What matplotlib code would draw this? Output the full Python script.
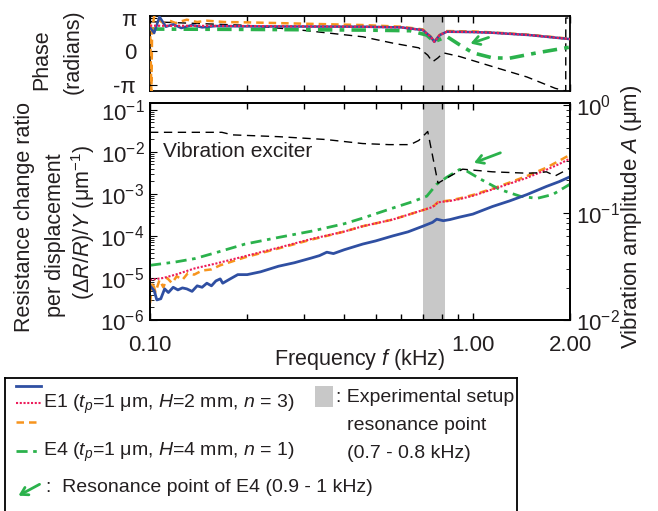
import numpy as np
import matplotlib
matplotlib.use("Agg")
import matplotlib.pyplot as plt
from matplotlib.patches import Rectangle
from matplotlib.lines import Line2D
from matplotlib.ticker import LogLocator, NullFormatter, FixedLocator

plt.rcParams['font.family'] = ['Liberation Sans', 'DejaVu Sans']
plt.rcParams['mathtext.fontset'] = 'custom'
plt.rcParams['mathtext.rm'] = 'Liberation Sans'
plt.rcParams['mathtext.it'] = 'Liberation Sans:italic'
plt.rcParams['mathtext.bf'] = 'Liberation Sans:bold'
TXT = '#231f20'

# ---------------- data ----------------
# E1 sample a (blue, solid)
f_e1a = [0.100, 0.103, 0.105, 0.108, 0.111, 0.114, 0.118, 0.122, 0.126, 0.130, 0.135, 0.140,
         0.145, 0.150, 0.155, 0.160, 0.165, 0.168, 0.175, 0.187, 0.20, 0.22, 0.25, 0.28, 0.317,
         0.335, 0.353, 0.37, 0.40, 0.456, 0.50, 0.565, 0.63, 0.70, 0.75, 0.773, 0.81, 0.85, 0.91,
         1.0, 1.15, 1.3, 1.47, 1.69, 1.85, 2.0]
r_e1a = [6.5e-6, 5.0e-6, 3.0e-6, 3.2e-6, 5.5e-6, 4.5e-6, 6.0e-6, 5.2e-6, 5.8e-6, 5.5e-6, 4.8e-6, 6.5e-6,
         6.0e-6, 7.5e-6, 6.5e-6, 8.5e-6, 9.5e-6, 7.5e-6, 9.0e-6, 1.2e-5, 1.2e-5, 1.4e-5, 1.9e-5, 2.3e-5, 3.0e-5,
         3.4e-5, 4.1e-5, 3.8e-5, 4.7e-5, 6.4e-5, 7.6e-5, 1.0e-4, 1.25e-4, 1.7e-4, 2.1e-4, 2.5e-4, 2.3e-4, 2.45e-4, 2.8e-4,
         3.3e-4, 5.0e-4, 6.8e-4, 9.6e-4, 1.5e-3, 1.95e-3, 2.55e-3]

# E1 sample b (red, dotted)
f_e1b = [0.100, 0.105, 0.11, 0.12, 0.138, 0.16, 0.197, 0.249, 0.317, 0.40, 0.456, 0.565, 0.70,
         0.74, 0.76, 0.78, 0.85, 0.91, 1.0, 1.15, 1.3, 1.47, 1.69, 1.85, 2.0]
r_e1b = [9e-6, 9.5e-6, 1.0e-5, 1.2e-5, 1.7e-5, 2.2e-5, 3.3e-5, 5.2e-5, 8.5e-5, 1.27e-4, 1.7e-4, 2.45e-4, 4.1e-4,
         4.7e-4, 5.2e-4, 6.3e-4, 6.8e-4, 7.5e-4, 9.0e-4, 1.28e-3, 1.75e-3, 2.4e-3, 3.75e-3, 5.1e-3, 6.9e-3]

# E1 sample c (orange, dashed)
f_e1c = [0.100, 0.101, 0.102, 0.104, 0.107, 0.110, 0.113, 0.117, 0.121, 0.126, 0.131, 0.137, 0.145,
         0.155, 0.165, 0.197, 0.249, 0.317, 0.40, 0.456, 0.565, 0.70, 0.74, 0.76, 0.78, 0.85, 0.91,
         1.0, 1.15, 1.3, 1.47, 1.69, 1.85, 2.0]
r_e1c = [2.5e-6, 5e-6, 8e-6, 4.5e-6, 9e-6, 6e-6, 1e-5, 7.5e-6, 1.1e-5, 9e-6, 1.3e-5, 1.2e-5, 1.5e-5,
         1.6e-5, 2.0e-5, 3.1e-5, 5.0e-5, 8.2e-5, 1.27e-4, 1.7e-4, 2.45e-4, 4.1e-4, 4.7e-4, 5.3e-4, 6.4e-4, 7.0e-4, 7.8e-4,
         9.4e-4, 1.33e-3, 1.86e-3, 2.65e-3, 4.2e-3, 6.1e-3, 8.5e-3]

# E4 (green, dash-dot)
f_e4 = [0.100, 0.12, 0.138, 0.16, 0.197, 0.25, 0.317, 0.40, 0.456, 0.565, 0.65, 0.72, 0.773, 0.83,
        0.91, 0.96, 1.05, 1.21, 1.4, 1.58, 1.77, 2.0]
r_e4 = [2.0e-5, 2.4e-5, 2.9e-5, 4.0e-5, 6.4e-5, 9.2e-5, 1.3e-4, 1.95e-4, 2.65e-4, 4.6e-4, 6.5e-4, 8.8e-4, 1.7e-3, 2.48e-3,
        3.8e-3, 3.45e-3, 2.3e-3, 1.28e-3, 8.8e-4, 7.8e-4, 9.7e-4, 1.7e-3]

# Vibration exciter amplitude (black dashed, right axis, um)
f_exc = [0.100, 0.167, 0.18, 0.25, 0.35, 0.456, 0.55, 0.64, 0.68, 0.725, 0.78, 0.83, 0.93, 1.15,
         1.47, 1.6, 1.69, 1.8, 2.0]
a_exc = [0.56, 0.56, 0.53, 0.51, 0.48, 0.44, 0.43, 0.43, 0.47, 0.57, 0.188, 0.21, 0.254, 0.24,
         0.233, 0.235, 0.24, 0.22, 0.26]

# Phases (in units of pi)
f_ph_e1a = [0.1, 0.103, 0.107, 0.112, 0.118, 0.125, 0.135, 0.145, 0.16, 0.2, 0.456, 0.6, 0.7, 0.74,
            0.76, 0.79, 0.83, 1.0, 1.15, 1.5, 2.0]
p_ph_e1a = [0.72, 0.55, 1.04, 0.74, 0.81, 0.70, 0.79, 0.72, 0.76, 0.75, 0.74, 0.72, 0.64, 0.44,
            0.29, 0.49, 0.59, 0.58, 0.56, 0.49, 0.37]
f_ph_e1b = [0.1, 0.2, 0.456, 0.6, 0.7, 0.74, 0.76, 0.79, 0.83, 1.0, 1.15, 1.5, 2.0]
p_ph_e1b = [0.77, 0.76, 0.74, 0.72, 0.64, 0.44, 0.29, 0.49, 0.59, 0.58, 0.56, 0.49, 0.37]
f_ph_e1c = [0.1, 0.101, 0.1015, 0.103, 0.106, 0.11, 0.115, 0.12, 0.13, 0.14, 0.15, 0.17, 0.2, 0.3,
            0.456, 0.6, 0.7, 0.74, 0.76, 0.79, 0.83, 1.0, 1.15, 1.5, 2.0]
p_ph_e1c = [0.83, -1.2, 0.61, 1.06, 0.95, 0.85, 0.92, 0.85, 0.95, 0.88, 0.92, 0.88, 0.87, 0.83,
            0.79, 0.74, 0.66, 0.45, 0.30, 0.50, 0.61, 0.60, 0.57, 0.50, 0.38]
f_ph_e4 = [0.1, 0.2, 0.456, 0.64, 0.72, 0.76, 0.83, 0.91, 1.0, 1.15, 1.3, 1.58, 2.0]
p_ph_e4 = [0.67, 0.66, 0.64, 0.62, 0.49, 0.29, 0.45, 0.20, -0.04, -0.19, -0.20, -0.04, 0.13]
f_ph_exc = [0.1, 0.2, 0.3, 0.456, 0.565, 0.68, 0.725, 0.75, 0.78, 0.81, 0.91, 1.15, 1.47, 1.8,
            1.94, 1.941, 2.0]
p_ph_exc = [0.89, 0.78, 0.63, 0.44, 0.25, 0.11, -0.11, -0.31, -0.19, -0.04, -0.15, -0.45, -0.76, -1.10,
            -1.18, 1.0, 1.0]

band = (0.70, 0.82)          # experimental setup resonance band (kHz)
x_ticks = [0.1, 1.0, 2.0]
x_ticklabels = ['0.10', '1.00', '2.00']

# ---------------- styles ----------------
C_BLUE = '#2f4fa2'
C_RED = '#ec1c5a'
C_ORANGE = '#f7941d'
C_GREEN = '#2bb24c'
C_GRAY = '#c8c8c8'
DASH_G = (4, 2, 1.3, 2)
DASH_O = (3, 2)
DASH_R = (1, 0.8)
DASH_K = (6, 4)
ARROW = dict(arrowstyle='->,head_length=0.5,head_width=0.3', color=C_GREEN, lw=2.0)

W, H = 658, 511
fig = plt.figure(figsize=(W / 100, H / 100), dpi=100)


def fbox(l, t, r, b):
    return [l / W, 1 - b / H, (r - l) / W, (b - t) / H]


ax_ph = fig.add_axes(fbox(150, 16, 570, 91))
ax = fig.add_axes(fbox(150, 103, 570, 320))
ax2 = ax.twinx()

for a in (ax_ph, ax):
    a.axvspan(band[0], band[1], color=C_GRAY, lw=0, zorder=0)

pi = np.pi
# phase
ax_ph.plot(f_ph_exc, np.array(p_ph_exc) * pi, color='k', lw=1.0, dashes=DASH_K, zorder=2)
ax_ph.plot(f_ph_e4, np.array(p_ph_e4) * pi, color=C_GREEN, lw=2.6, dashes=DASH_G, zorder=3)
ax_ph.plot(f_ph_e1c, np.array(p_ph_e1c) * pi, color=C_ORANGE, lw=1.8, dashes=DASH_O, zorder=3)
ax_ph.plot(f_ph_e1a, np.array(p_ph_e1a) * pi, color=C_BLUE, lw=1.8, zorder=4)
ax_ph.plot(f_ph_e1b, np.array(p_ph_e1b) * pi, color=C_RED, lw=1.6, dashes=DASH_R, zorder=5)

# amplitude ratio
ax.plot(f_e1a, r_e1a, color=C_BLUE, lw=2.0, zorder=4)
ax.plot(f_e1c, r_e1c, color=C_ORANGE, lw=1.8, dashes=DASH_O, zorder=3)
ax.plot(f_e1b, r_e1b, color=C_RED, lw=1.5, dashes=DASH_R, zorder=5)
ax.plot(f_e4, r_e4, color=C_GREEN, lw=2.0, dashes=DASH_G, zorder=3)
ax2.plot(f_exc, a_exc, color='k', lw=1.0, dashes=DASH_K)

for a in (ax_ph, ax):
    a.set_xscale('log')
    a.set_xlim(0.1, 2.0)
    a.xaxis.set_major_locator(FixedLocator(x_ticks))
    a.xaxis.set_minor_locator(LogLocator(base=10, subs=np.arange(2, 10), numticks=20))
    a.xaxis.set_minor_formatter(NullFormatter())
    a.tick_params(axis='x', which='both', direction='in', top=True, bottom=True,
                  length=5, width=1, labelsize=16, labelcolor=TXT, pad=11)
    a.tick_params(axis='x', which='minor', length=4)
ax_ph.set_xticklabels([])
ax.set_xticklabels(x_ticklabels)

ax_ph.set_ylim(-pi * 1.18, pi * 1.06)
ax_ph.set_yticks([-pi, 0, pi])
ax_ph.set_yticklabels(['-π', '0', 'π'])
ax_ph.tick_params(axis='y', direction='in', length=5, labelsize=16, labelcolor=TXT, pad=10)

ax.set_yscale('log')
ax.set_ylim(1e-6, 1.45e-1)
ax.yaxis.set_minor_locator(LogLocator(base=10, subs=np.arange(2, 10), numticks=20))
ax.yaxis.set_minor_formatter(NullFormatter())
ax.set_yticks([1e-6, 1e-5, 1e-4, 1e-3, 1e-2, 1e-1])
ax.set_yticklabels([r'$10^{-6}$', r'$10^{-5}$', r'$10^{-4}$', r'$10^{-3}$', r'$10^{-2}$', r'$10^{-1}$'])
ax.tick_params(axis='y', which='both', direction='in', length=5, labelsize=16, labelcolor=TXT, pad=4)
ax.tick_params(axis='y', which='minor', length=3)

ax2.set_yscale('log')
ax2.set_ylim(1e-2, 1.05e0)
ax2.set_yticks([1e-2, 1e-1, 1e0])
ax2.set_yticklabels([r'$10^{-2}$', r'$10^{-1}$', r'$10^{0}$'])
ax2.yaxis.set_minor_locator(LogLocator(base=10, subs=np.arange(2, 10), numticks=20))
ax2.yaxis.set_minor_formatter(NullFormatter())
ax2.tick_params(axis='y', which='both', direction='in', length=5, labelsize=16, labelcolor=TXT, pad=4)
ax2.tick_params(axis='y', which='minor', length=3)

for a in (ax_ph, ax, ax2):
    for s in a.spines.values():
        s.set_linewidth(1.3)

# annotations
ax.text(0.1095, 1.0e-2, 'Vibration exciter', fontsize=15, color=TXT, va='center')
ax.annotate('', xy=(0.99, 5.2e-3), xytext=(1.24, 1.0e-2), arrowprops=ARROW)
ax_ph.annotate('', xy=(0.965, 0.66), xytext=(1.14, 1.4), arrowprops=ARROW)

ax.set_xlabel(r'Frequency $f$ (kHz)', fontsize=15.5, color=TXT, labelpad=-7)

# left labels
LBL = 15.5
fig.text(25 / W, 1 - 217 / H, 'Resistance change ratio', rotation=90, fontsize=LBL,
         color=TXT, ha='center', va='center')
fig.text(56 / W, 1 - 235 / H, 'per displacement', rotation=90, fontsize=LBL,
         color=TXT, ha='center', va='center')
fig.text(83 / W, 1 - 222 / H, r'($\mathit{\Delta R/R}$)/$Y$ (μm$^{-1}$)', rotation=90, fontsize=LBL,
         color=TXT, ha='center', va='center')
fig.text(42 / W, 1 - 60 / H, 'Phase', rotation=90, fontsize=LBL, color=TXT, ha='center', va='center')
fig.text(73 / W, 1 - 52 / H, '(radians)', rotation=90, fontsize=LBL, color=TXT, ha='center', va='center')
fig.text(631 / W, 1 - 217 / H, r'Vibration amplitude $A$ (μm)', rotation=90, fontsize=16,
         color=TXT, ha='center', va='center')

# ---------------- legend box ----------------
lg = fig.add_axes(fbox(5, 378, 517, 516))
lg.set_xlim(5, 517)
lg.set_ylim(516, 378)
lg.set_xticks([])
lg.set_yticks([])
for s in lg.spines.values():
    s.set_linewidth(1.3)
lg.patch.set_alpha(0)

lg.add_line(Line2D([16, 41], [386, 386], color=C_BLUE, lw=2.0))
lg.add_line(Line2D([16, 41], [403, 403], color=C_RED, lw=1.5, dashes=DASH_R))
lg.add_line(Line2D([16, 41], [422, 422], color=C_ORANGE, lw=1.8, dashes=DASH_O))
lg.add_line(Line2D([16, 41], [451, 451], color=C_GREEN, lw=2.0, dashes=DASH_G))
lg.annotate('', xy=(16, 497), xytext=(42, 483), arrowprops=ARROW)
lg.add_patch(Rectangle((315, 386), 18, 21, color=C_GRAY, lw=0))

LFS = 14
lg.text(43, 404, r'E1 ($t_p$=1 μm, $H$=2 mm, $n$ = 3)', fontsize=LFS, color=TXT, va='center')
lg.text(43, 452, r'E4 ($t_p$=1 μm, $H$=4 mm, $n$ = 1)', fontsize=LFS, color=TXT, va='center')
lg.text(46, 487, ':  Resonance point of E4 (0.9 - 1 kHz)', fontsize=LFS, color=TXT, va='center')
lg.text(336, 397, ': Experimental setup', fontsize=LFS, color=TXT, va='center')
lg.text(347, 425, 'resonance point', fontsize=LFS, color=TXT, va='center')
lg.text(347, 453, '(0.7 - 0.8 kHz)', fontsize=LFS, color=TXT, va='center')

fig.savefig('out.png', dpi=100)
